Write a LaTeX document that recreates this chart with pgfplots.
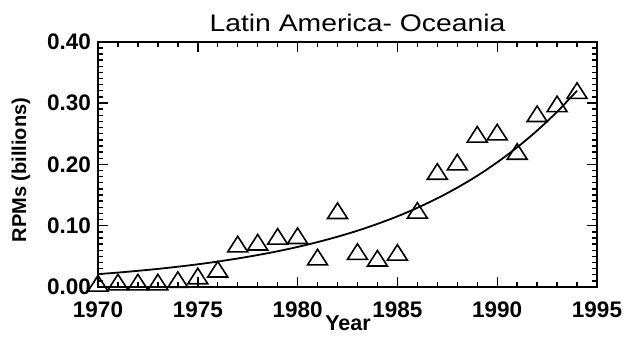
\documentclass[border=0pt]{standalone}
\usepackage{fontspec}
\setmainfont{Liberation Sans}
\usepackage{graphicx}
\usepackage{pgfplots}
\pgfplotsset{compat=1.18}
\begin{document}
\begin{tikzpicture}[x=1pt,y=1pt]
\useasboundingbox (0,0) rectangle (626,348);
\begin{axis}[
  at={(98pt,61pt)}, anchor=south west,
  scale only axis, width=499pt, height=245.3pt,
  xmin=1970, xmax=1995, ymin=0, ymax=0.4,
  xtick={1970,1975,...,1995}, minor x tick num=4,
  ytick={0,0.1,0.2,0.3,0.4}, minor y tick num=9,
  tick align=inside, tick pos=both,
  major tick length=10pt, minor tick length=5pt,
  axis line style={line width=1.8pt},
  every tick/.style={black, line width=1.4pt},
  /pgf/number format/assume math mode=true,
  xticklabel style={font=\fontsize{22.5}{24}\selectfont\bfseries, anchor=north, inner sep=0pt, yshift=-15pt, /pgf/number format/1000 sep={}},
  yticklabel style={font=\fontsize{22.5}{24}\selectfont\bfseries, anchor=east, inner sep=0pt, xshift=-7pt, /pgf/number format/fixed, /pgf/number format/fixed zerofill, /pgf/number format/precision=2},
  clip=true,
]
\addplot[black, line width=1.8pt, smooth, no marks] coordinates {
(1970,0.0210) (1971,0.0235) (1972,0.0264) (1973,0.0295) (1974,0.0331)
(1975,0.0370) (1976,0.0415) (1977,0.0465) (1978,0.0521) (1979,0.0583)
(1980,0.0653) (1981,0.0732) (1982,0.0820) (1983,0.0918) (1984,0.1029)
(1985,0.1152) (1986,0.1291) (1987,0.1446) (1988,0.1620) (1989,0.1814)
(1990,0.2033) (1991,0.2277) (1992,0.2551) (1993,0.2857) (1994,0.3201)
};
\addplot[only marks, mark=triangle, mark size=11.5pt, mark options={black, line width=1.6pt, yshift=-2.6pt, yscale=0.9}] coordinates {
(1970,0.006) (1971,0.008) (1972,0.008) (1973,0.008) (1974,0.012)
(1975,0.018) (1976,0.029) (1977,0.070) (1978,0.073) (1979,0.0825)
(1980,0.0836) (1981,0.0488) (1982,0.1244) (1983,0.0578) (1984,0.0469)
(1985,0.0564) (1986,0.1249) (1987,0.1884) (1988,0.2036) (1989,0.249)
(1990,0.2526) (1991,0.221) (1992,0.2825) (1993,0.2986) (1994,0.3203)
};
\end{axis}
\node[anchor=base, inner sep=0pt, font=\fontsize{24}{26}\selectfont] at (357.5,316) {\scalebox{1.18}[1]{Latin America- Oceania}};
\node[anchor=base, inner sep=0pt, font=\fontsize{21.5}{24}\selectfont\bfseries] at (348,18) {Year};
\node[rotate=90, inner sep=0pt, font=\fontsize{20}{24}\selectfont\bfseries] at (21,178) {RPMs (billions)};
\end{tikzpicture}
\end{document}
